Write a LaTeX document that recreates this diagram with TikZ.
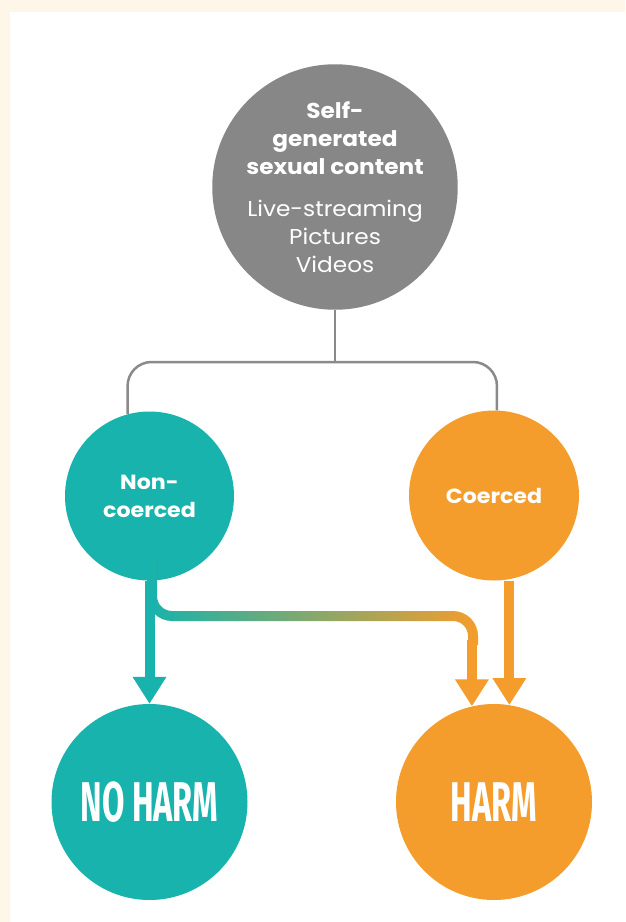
\documentclass[tikz,border=0pt]{standalone}
\usepackage{fontspec}
\setmainfont{Poppins}[FakeStretch=1.08]
\newfontfamily\condfont[FakeStretch=0.58]{Fira Sans}
\usetikzlibrary{arrows.meta}
\definecolor{cream}{HTML}{FFF6EA}
\definecolor{tealc}{HTML}{17B3AC}
\definecolor{orangec}{HTML}{F49D2C}
\definecolor{grayc}{HTML}{878787}
\definecolor{grayline}{HTML}{8A8A8A}
\tikzset{
  bubble/.style={circle, inner sep=0pt, text=white, align=center},
  grayconn/.style={draw=grayline, line width=2.5pt},
  tealarrow/.style={draw=tealc, line width=10pt, -{Triangle[width=32pt,length=27pt]}},
  orangearrow/.style={draw=orangec, line width=10pt, -{Triangle[width=32pt,length=27pt]}},
  smalltxt/.style={font=\fontsize{20.5}{28}\selectfont\bfseries},
  toptxt/.style={font=\fontsize{21.5}{28}\selectfont},
  bigtxt/.style={font=\fontsize{56}{60}\selectfont\condfont\bfseries}
}
\begin{document}
\begin{tikzpicture}[x=1pt,y=-1pt]
\useasboundingbox (0,0) rectangle (625,922);
\fill[cream] (0,0) rectangle (625,922);
\fill[white] (10,12) rectangle (625,922);

\node[bubble, fill=grayc, minimum size=244pt, toptxt] (top) at (335,187)
  {\bfseries Self-\\ \bfseries generated\\ \bfseries sexual content\\[14pt]
   Live-streaming\\ Pictures\\ Videos};
\node[bubble, fill=tealc, minimum size=169pt, smalltxt] (nc) at (149.5,496) {Non-\\coerced};
\node[bubble, fill=orangec, minimum size=170pt, smalltxt] (c) at (494,495.5) {Coerced};
\node[bubble, fill=tealc, minimum size=196pt, bigtxt] (nh) at (149.5,802) {NO HARM};
\node[bubble, fill=orangec, minimum size=196pt, bigtxt] (h) at (494,802) {HARM};

\coordinate (J) at (335,362);
\draw[grayconn] (top.south) -- (J);
\draw[grayconn, rounded corners=24pt] (nc.105) -- (nc.105 |- J) -- (c.88 |- J) -- (c.88);

\shade[left color=tealc, right color=orangec]
  (147,560) -- (147,596) .. controls (147,609.8) and (158.2,621) .. (172,621)
  -- (453,621) .. controls (461.3,621) and (468,627.7) .. (468,636)
  -- (468,645) -- (478,645) -- (478,636)
  .. controls (478,622.2) and (466.8,611) .. (453,611)
  -- (172,611) .. controls (163.7,611) and (157,604.3) .. (157,596)
  -- (157,560) -- cycle;

\draw[tealarrow] (nc.south) -- (nh.north);
\draw[orangearrow] (h.103 |- 0,640) -- (h.103);
\draw[orangearrow] (h.81 |- c.south) -- (h.81);
\end{tikzpicture}
\end{document}
